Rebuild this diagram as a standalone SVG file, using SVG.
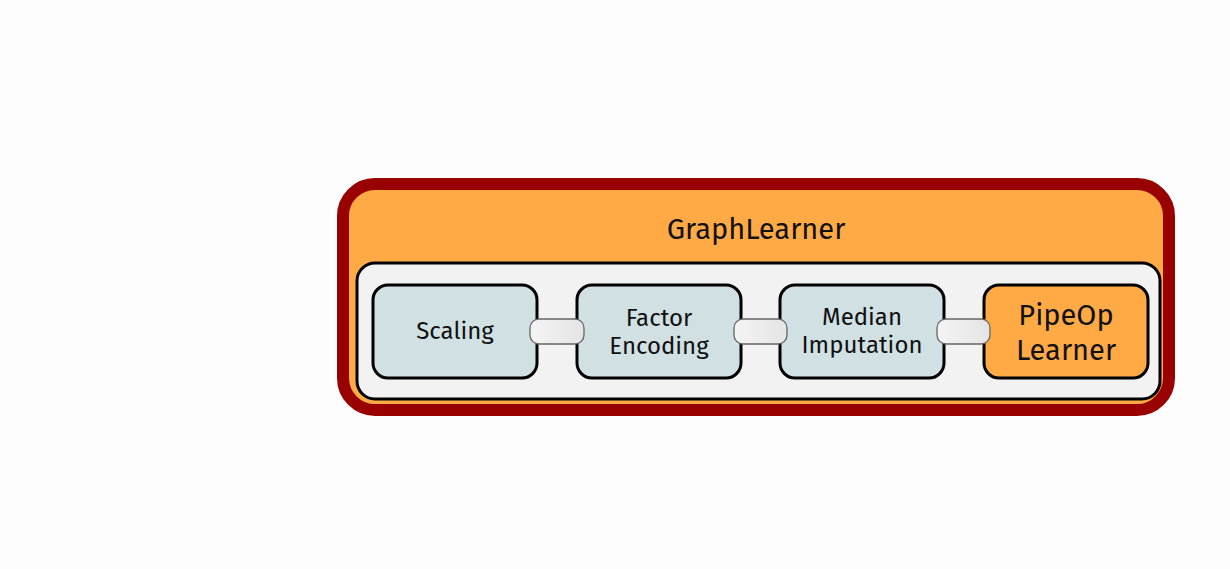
<svg xmlns="http://www.w3.org/2000/svg" width="1230" height="569" viewBox="0 0 1230 569">
<defs>
<linearGradient id="pg" x1="0" y1="0" x2="1" y2="0">
<stop offset="0" stop-color="#f4f4f4"/>
<stop offset="0.5" stop-color="#ececec"/>
<stop offset="1" stop-color="#e4e4e4"/>
</linearGradient>
<style>
.t{font-family:"Fira Sans","Noto Sans","Open Sans",sans-serif;fill:#111;text-anchor:middle}
.op{fill:#d0e0e3;stroke:#000;stroke-width:3}
.lr{fill:#ffaa44;stroke:#000;stroke-width:3}
.pipe{fill:url(#pg);stroke:#666;stroke-width:1.3}
</style>
</defs>
<rect width="1230" height="569" fill="#fdfdfd"/>
<g id="graphlearner">
<rect x="343" y="184" width="826" height="226" rx="32" fill="#ffaa44" stroke="#990000" stroke-width="12"/>
<text class="t" x="756" y="239" font-size="29">GraphLearner</text>
</g>
<g id="graph">
<rect x="357" y="263" width="803" height="136" rx="18" fill="#f2f2f2" stroke="#000" stroke-width="3"/>
</g>
<g id="scaling">
<rect class="op" x="373" y="285" width="164" height="93" rx="15"/>
<text class="t" x="455" y="339" font-size="24">Scaling</text>
</g>
<g id="factor">
<rect class="op" x="577" y="285" width="164" height="93" rx="15"/>
<text class="t" x="659" y="326" font-size="24">Factor</text>
<text class="t" x="659" y="354" font-size="24">Encoding</text>
</g>
<g id="median">
<rect class="op" x="780" y="285" width="164" height="93" rx="15"/>
<text class="t" x="862" y="325" font-size="24">Median</text>
<text class="t" x="862" y="353" font-size="24">Imputation</text>
</g>
<g id="learner">
<rect class="lr" x="984" y="285" width="164" height="93" rx="15"/>
<text class="t" x="1066" y="325" font-size="29">PipeOp</text>
<text class="t" x="1066" y="360" font-size="29">Learner</text>
</g>
<g id="connectors">
<rect class="pipe" x="530" y="319" width="54" height="25" rx="9"/>
<rect class="pipe" x="734" y="319" width="53" height="25" rx="9"/>
<rect class="pipe" x="937" y="319" width="53" height="25" rx="9"/>
</g>
</svg>
